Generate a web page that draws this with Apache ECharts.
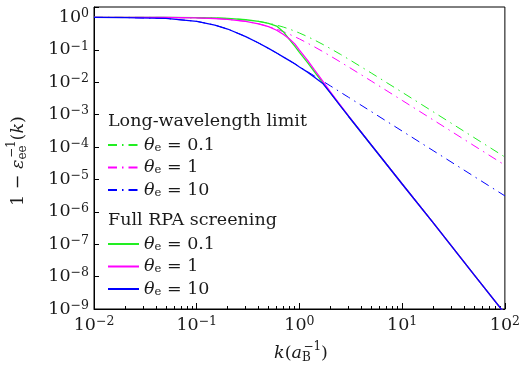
<!DOCTYPE html>
<html>
<head>
<meta charset="utf-8">
<script src="https://cdn.jsdelivr.net/npm/echarts@6.0.0/dist/echarts.min.js"></script>
<style>
  html, body { margin: 0; padding: 0; background: #fff; }
  #chart { width: 523px; height: 366px; }
</style>
</head>
<body>
<div id="chart"></div>
<script>
// wave number k (a_B^-1), shared by all curves
const kVals = [0.01, 0.02, 0.05, 0.1, 0.15, 0.2, 0.3, 0.4, 0.5, 0.6, 0.7, 0.8, 0.9,
  1, 1.2, 1.4, 1.7, 2, 2.5, 3, 5, 10, 20, 50, 100];

// long-wavelength limit (dash-dot)
const lwTheta01 = [1.0, 0.9992, 0.995, 0.98, 0.956, 0.925, 0.845, 0.754, 0.662, 0.576, 0.5, 0.434, 0.377,
  0.329, 0.254, 0.2, 0.145, 0.109, 0.0727, 0.0516, 0.0192, 0.00488, 0.001225, 0.000196, 0.000049];
const lwTheta1 = [0.9996, 0.9985, 0.991, 0.965, 0.924, 0.873, 0.753, 0.632, 0.524, 0.433, 0.359, 0.30, 0.253,
  0.216, 0.160, 0.123, 0.0869, 0.0643, 0.0421, 0.0296, 0.01088, 0.00274, 0.000687, 0.00011, 0.0000275];
const lwTheta10 = [0.9968, 0.987, 0.925, 0.756, 0.579, 0.437, 0.256, 0.162, 0.110, 0.0793, 0.0595, 0.0462, 0.0369,
  0.0301, 0.0211, 0.01557, 0.0106, 0.00769, 0.00494, 0.00343, 0.00124, 0.00031, 0.0000775, 0.0000124, 0.0000031];

// full RPA screening (solid)
const rpaTheta01 = [1.0, 0.9992, 0.995, 0.98, 0.956, 0.925, 0.845, 0.752, 0.655, 0.54, 0.355, 0.205, 0.129,
  0.083, 0.040, 0.021, 0.0093, 0.0047, 0.0019, 0.00089, 0.000115, 7.2e-6, 4.6e-7, 1.15e-8, 7.2e-10];
const rpaTheta1 = [0.9996, 0.9985, 0.991, 0.965, 0.924, 0.873, 0.753, 0.63, 0.515, 0.40, 0.295, 0.215, 0.152,
  0.098, 0.047, 0.024, 0.0104, 0.0050, 0.00195, 0.00091, 0.000116, 7.2e-6, 4.6e-7, 1.15e-8, 7.2e-10];
const rpaTheta10 = [0.9968, 0.987, 0.925, 0.756, 0.579, 0.437, 0.256, 0.162, 0.110, 0.0793, 0.0595, 0.0462, 0.0369,
  0.0295, 0.0204, 0.0141, 0.0089, 0.00468, 0.00186, 0.00089, 0.000115, 7.2e-6, 4.6e-7, 1.15e-8, 7.2e-10];

// minor ticks on the k axis
const kMinorTicks = [];
[0.01, 0.1, 1, 10].forEach(d => {
  [2, 3, 4, 5, 6, 7, 8, 9].forEach(m => kMinorTicks.push(+(m * d).toPrecision(3)));
});

const thetaLabels = ['0.1', '1', '10'];
const colors = ['#22ee22', '#ff00ff', '#0000ff'];

const FONT = 'DejaVu Serif';
const TXT = '#1a1a1a';
const dashDot = [9, 5, 1.5, 5];

const pairs = ys => kVals.map((k, i) => [k, ys[i]]);

const tickRich = {
  b: { fontFamily: FONT, fontSize: 17.5, lineHeight: 20, color: TXT },
  s: { fontFamily: FONT, fontSize: 12.5, lineHeight: 12, verticalAlign: 'top', color: TXT }
};
function powLabel(v) {
  const lg = Math.log10(v);
  const e = Math.round(lg);
  if (Math.abs(lg - e) > 1e-6) return '';
  return '{b|10}{s|' + (e < 0 ? '\u2212' + (-e) : e) + '}';
}

const legendRich = {
  t: { fontFamily: FONT, fontStyle: 'italic', fontSize: 17.5, lineHeight: 18, color: TXT },
  e: { fontFamily: FONT, fontSize: 11.5, lineHeight: 11, verticalAlign: 'bottom', color: TXT },
  n: { fontFamily: FONT, fontSize: 17.5, lineHeight: 18, color: TXT }
};
const nameMap = {};
['lw', 'rpa'].forEach(g => thetaLabels.forEach((t, i) => {
  nameMap[g + i] = '{t|θ}{e|e}{n| = ' + t + '}';
}));

// axis titles with stacked super/subscripts, laid out piece by piece
const F_N = '17.5px "DejaVu Serif"';
const F_I = 'italic 17.5px "DejaVu Serif"';
const F_S = '12px "DejaVu Serif"';
const mctx = document.createElement('canvas').getContext('2d');
function tw(font, s) { mctx.font = font; return mctx.measureText(s).width; }
function mathTitle(parts, x, y, rotation) {
  const kids = [];
  let cx = 0;
  parts.forEach(p => {
    if (p.sup !== undefined) {
      const w = Math.max(tw(F_S, p.sup), tw(F_S, p.sub));
      kids.push({ type: 'text', x: cx + 1.5, y: -6, style: { text: p.sup, font: F_S, fill: TXT, verticalAlign: 'middle' } });
      kids.push({ type: 'text', x: cx, y: 5, style: { text: p.sub, font: F_S, fill: TXT, verticalAlign: 'middle' } });
      cx += w + 1.5;
    } else {
      const f = p.it ? F_I : F_N;
      kids.push({ type: 'text', x: cx, y: 0, style: { text: p.t, font: f, fill: TXT, verticalAlign: 'middle' } });
      cx += tw(f, p.t);
    }
  });
  kids.forEach(k => { k.x -= cx / 2; });
  return { type: 'group', x: x, y: y, rotation: rotation, silent: true, children: kids };
}

const series = [];
[lwTheta01, lwTheta1, lwTheta10].forEach((ys, i) => {
  series.push({
    name: 'lw' + i, type: 'line', data: pairs(ys), symbol: 'none',
    lineStyle: { color: colors[i], width: 1, type: dashDot },
    itemStyle: { color: colors[i] }, silent: true, animation: false
  });
});
[rpaTheta01, rpaTheta1, rpaTheta10].forEach((ys, i) => {
  series.push({
    name: 'rpa' + i, type: 'line', data: pairs(ys), symbol: 'none',
    lineStyle: { color: colors[i], width: 1.3, type: 'solid' },
    itemStyle: { color: colors[i] }, silent: true, animation: false
  });
});

const chart = echarts.init(document.getElementById('chart'), null, { renderer: 'canvas' });

const legendBase = {
  orient: 'vertical', left: 107, itemWidth: 31, itemHeight: 12, itemGap: 4.5, padding: 0,
  selectedMode: false, formatter: n => nameMap[n], textStyle: { rich: legendRich },
  itemStyle: { opacity: 0 }
};

chart.setOption({
  animation: false,
  grid: { left: 94, top: 7, right: 14, bottom: 57, show: true, borderColor: '#000', borderWidth: 1 },
  xAxis: [{
    type: 'log', logBase: 10, min: 0.01, max: 100, interval: 1,
    axisLine: { show: true, lineStyle: { color: '#000', width: 1 } },
    axisTick: { inside: true, length: 6, lineStyle: { color: '#000' } },
    axisLabel: { margin: 6, formatter: powLabel, rich: tickRich },
    splitLine: { show: false }
  }, {
    type: 'log', logBase: 10, min: 0.01, max: 100, position: 'bottom',
    axisLine: { show: false },
    axisTick: { inside: true, length: 3, customValues: kMinorTicks, lineStyle: { color: '#000' } },
    axisLabel: { show: false },
    splitLine: { show: false }
  }],
  yAxis: {
    type: 'log', logBase: 10, min: 1e-9, max: 2.09, interval: 1,
    axisLine: { show: true, lineStyle: { color: '#000', width: 1 } },
    axisTick: { inside: true, length: 5, lineStyle: { color: '#000' } },
    axisLabel: { margin: 5, formatter: powLabel, rich: tickRich },
    splitLine: { show: false }
  },
  legend: [
    Object.assign({ top: 136, data: ['lw0', 'lw1', 'lw2'] }, legendBase),
    Object.assign({ top: 235, data: ['rpa0', 'rpa1', 'rpa2'] }, legendBase)
  ],
  graphic: [
    { type: 'text', x: 108, y: 121, silent: true,
      style: { text: 'Long-wavelength limit', font: F_N, fill: TXT, verticalAlign: 'middle' } },
    { type: 'text', x: 108, y: 220, silent: true,
      style: { text: 'Full RPA screening', font: F_N, fill: TXT, verticalAlign: 'middle' } },
    mathTitle([{ t: 'k', it: true }, { t: '(' }, { t: 'a', it: true }, { sup: '−1', sub: 'B' }, { t: ')' }],
      301, 353, 0),
    mathTitle([{ t: '1 − ' }, { t: 'ε', it: true }, { sup: '−1', sub: 'ee' }, { t: '(' }, { t: 'k', it: true }, { t: ')' }],
      18, 161, Math.PI / 2)
  ],
  series: series
});
</script>
</body>
</html>
